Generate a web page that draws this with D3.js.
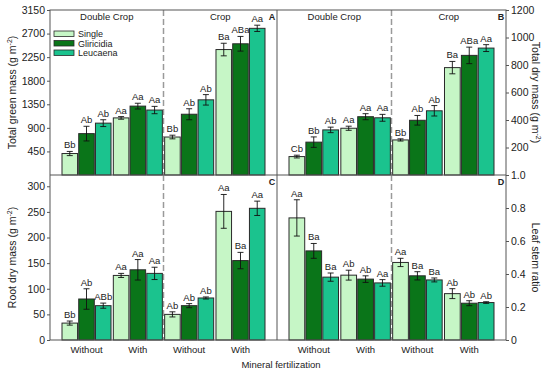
<!DOCTYPE html>
<html>
<head>
<meta charset="utf-8">
<script src="https://cdn.jsdelivr.net/npm/d3@7"></script>
<style>
  body { margin: 0; background: #fff; }
  svg { font-family: "Liberation Sans", Arial, sans-serif; }
</style>
</head>
<body>
<div class="chart"></div>
<script>
// groups: Double Crop Without, Double Crop With, Crop Without, Crop With
const groups = ["dcWithout", "dcWith", "cWithout", "cWith"]
const xLabels = ["Without", "With", "Without", "With"]
const halves = ["Double Crop", "Crop"]
const series = ["Single", "Gliricidia", "Leucaena"]
const colors = ["#c6f6c6", "#0a7519", "#1bc38e"]

// panel A - total green mass
const greenMass = [[410, 790, 990], [1090, 1315, 1240], [725, 1160, 1435], [2395, 2505, 2800]]
const greenErr = [[40, 140, 65], [25, 55, 70], [35, 105, 100], [120, 140, 60]]
const greenLet = [["Bb", "Ab", "Ab"], ["Aa", "Aa", "Aa"], ["Bb", "Ab", "Ab"], ["Ba", "ABa", "Aa"]]
const greenTicks = [450, 900, 1350, 1800, 2250, 2700, 3150]

// panel B - total dry mass
const dryMass = [[134, 239, 328], [340, 424, 416], [255, 398, 467], [781, 870, 923]]
const dryErr = [[10, 38, 20], [15, 22, 25], [8, 35, 38], [45, 60, 25]]
const dryLet = [["Cb", "Bb", "Ab"], ["Aa", "Aa", "Aa"], ["Bb", "Ab", "Ab"], ["Ba", "ABa", "Aa"]]
const dryTicks = [200, 400, 600, 800, 1000, 1200]

// panel C - root dry mass
const rootMass = [[33, 80, 67], [126, 137, 130], [50, 67, 82], [251, 155, 257]]
const rootErr = [[4, 20, 5], [4, 20, 12], [5, 4, 2], [33, 16, 14]]
const rootLet = [["Bb", "Ab", "ABb"], ["Aa", "Aa", "Aa"], ["Ab", "Ab", "Ab"], ["Aa", "Ba", "Aa"]]
const rootTicks = [0, 50, 100, 150, 200, 250, 300]

// panel D - leaf stem ratio
const leafStem = [[0.74, 0.54, 0.381], [0.393, 0.369, 0.346], [0.47, 0.389, 0.364], [0.281, 0.223, 0.227]]
const leafErr = [[0.11, 0.045, 0.025], [0.03, 0.02, 0.02], [0.025, 0.025, 0.012], [0.03, 0.015, 0.005]]
const leafLet = [["Aa", "Ba", "Ba"], ["Ab", "Ab", "Aa"], ["Aa", "Ba", "Ba"], ["Ab", "Ab", "Ab"]]
const leafTicks = [0, 0.2, 0.4, 0.6, 0.8, 1.0]

const svg = d3.select(".chart").append("svg")
  .attr("width", 550).attr("height", 376)

const L = 50, M = 277, R = 506, T = 10, H = 175, B = 340

const panels = [
  {id: "A", vals: greenMass, err: greenErr, lets: greenLet, ticks: greenTicks, max: 3150, x0: L, x1: M, y0: T, y1: H, side: "left",
   title: "Total green mass (g m", fmt: d => d},
  {id: "B", vals: dryMass, err: dryErr, lets: dryLet, ticks: dryTicks, max: 1200, x0: M, x1: R, y0: T, y1: H, side: "right",
   title: "Total dry mass (g m", fmt: d => d},
  {id: "C", vals: rootMass, err: rootErr, lets: rootLet, ticks: rootTicks, max: 322, x0: L, x1: M, y0: H, y1: B, side: "left",
   title: "Root dry mass (g m", fmt: d => d},
  {id: "D", vals: leafStem, err: leafErr, lets: leafLet, ticks: leafTicks, max: 1.0, x0: M, x1: R, y0: H, y1: B, side: "right",
   title: "Leaf stem ratio", fmt: d => d === 0 ? "0" : d.toFixed(1)}
]

panels.forEach(p => {
  const x = d3.scaleBand().domain(groups).range([p.x0 + 12, p.x1 - 12]).paddingInner(0.045)
  const xs = d3.scaleBand().domain(series).range([0, x.bandwidth()]).paddingInner(0.07)
  const y = d3.scaleLinear().domain([0, p.max]).range([p.y1, p.y0])
  const g = svg.append("g")

  // dashed divider
  const mid = (p.x0 + p.x1) / 2
  g.append("line").attr("x1", mid).attr("x2", mid).attr("y1", p.y0).attr("y2", p.y1)
    .attr("stroke", "#9a9a9a").attr("stroke-width", 1.5).attr("stroke-dasharray", "6,3")

  const grp = g.selectAll(".grp").data(groups).enter().append("g")
    .attr("transform", d => `translate(${x(d)},0)`)

  const items = grp.selectAll("g").data((d, i) => series.map((s, j) => ({s, j, v: p.vals[i][j], e: p.err[i][j], t: p.lets[i][j]})))
    .enter().append("g")

  items.append("rect")
    .attr("x", d => xs(d.s)).attr("width", xs.bandwidth())
    .attr("y", d => y(d.v)).attr("height", d => y(0) - y(d.v))
    .attr("fill", d => colors[d.j]).attr("stroke", "#2a2a2a").attr("stroke-width", 1)

  const cx = d => xs(d.s) + xs.bandwidth() / 2
  items.append("line").attr("x1", cx).attr("x2", cx)
    .attr("y1", d => y(d.v - d.e)).attr("y2", d => y(d.v + d.e))
    .attr("stroke", "#111").attr("stroke-width", 0.9)
  items.append("line").attr("x1", d => cx(d) - 3).attr("x2", d => cx(d) + 3)
    .attr("y1", d => y(d.v + d.e)).attr("y2", d => y(d.v + d.e))
    .attr("stroke", "#111").attr("stroke-width", 0.9)
  items.append("line").attr("x1", d => cx(d) - 3).attr("x2", d => cx(d) + 3)
    .attr("y1", d => y(d.v - d.e)).attr("y2", d => y(d.v - d.e))
    .attr("stroke", "#111").attr("stroke-width", 0.9)
  items.append("text").text(d => d.t)
    .attr("x", cx).attr("y", d => y(d.v + d.e) - 3)
    .attr("text-anchor", "middle").attr("font-size", 9.5).attr("fill", "#222")

  // axis
  const axis = p.side === "left" ? d3.axisLeft(y) : d3.axisRight(y)
  axis.tickValues(p.ticks).tickFormat(p.fmt).tickSize(3).tickPadding(2)
  const ax = svg.append("g")
    .attr("transform", `translate(${p.side === "left" ? p.x0 : p.x1},0)`)
    .call(axis)
  ax.select(".domain").remove()
  ax.selectAll("line").attr("stroke", "#555")
  ax.selectAll("text").attr("font-size", 10.5).attr("fill", "#222")
    .attr("font-family", "Liberation Sans, Arial, sans-serif")

  // panel letter
  svg.append("text").text(p.id)
    .attr("x", p.x1 - 5).attr("y", p.y0 + 10)
    .attr("text-anchor", "middle").attr("font-size", 9).attr("font-weight", "bold").attr("fill", "#222")

  // axis title
  const tx = p.side === "left" ? 16 : 532
  const ty = (p.y0 + p.y1) / 2
  const title = svg.append("text")
    .attr("transform", `translate(${tx},${ty}) rotate(${p.side === "left" ? -90 : 90})`)
    .attr("text-anchor", "middle").attr("font-size", 10.5).attr("fill", "#222")
  title.append("tspan").text(p.title)
  if (p.id !== "D") {
    title.append("tspan").text("-2").attr("font-size", 7).attr("dy", -4)
    title.append("tspan").text(")").attr("dy", 4)
  }

  // half titles on the top row
  if (p.y0 === T) {
    svg.selectAll(null).data(halves).enter().append("text")
      .text(d => d)
      .attr("x", (d, i) => i === 0 ? (p.x0 + mid) / 2 : (mid + p.x1) / 2)
      .attr("y", p.y0 + 10)
      .attr("text-anchor", "middle").attr("font-size", 9.5).attr("fill", "#222")
  } else {
    svg.selectAll(null).data(groups).enter().append("text")
      .text((d, i) => xLabels[i])
      .attr("x", d => x(d) + x.bandwidth() / 2)
      .attr("y", B + 13)
      .attr("text-anchor", "middle").attr("font-size", 9.5).attr("fill", "#222")
  }
})

// frame lines
const frame = svg.append("g").attr("stroke", "#555").attr("stroke-width", 1).attr("fill", "none")
frame.append("rect").attr("x", L).attr("y", T).attr("width", R - L).attr("height", B - T)
frame.append("line").attr("x1", L).attr("x2", R).attr("y1", H).attr("y2", H)
frame.append("line").attr("x1", M).attr("x2", M).attr("y1", T).attr("y2", B)

// x title
svg.append("text").text("Mineral fertilization")
  .attr("x", 281).attr("y", 368)
  .attr("text-anchor", "middle").attr("font-size", 9.5).attr("fill", "#222")

// legend
const leg = svg.append("g").attr("transform", "translate(54,31)")
const li = leg.selectAll("g").data(series).enter().append("g")
  .attr("transform", (d, i) => `translate(0,${i * 9.5})`)
li.append("rect").attr("width", 20).attr("height", 5.5)
  .attr("fill", (d, i) => colors[i]).attr("stroke", "#2a2a2a").attr("stroke-width", 0.8)
li.append("text").text(d => d).attr("x", 24).attr("y", 6)
  .attr("font-size", 9).attr("fill", "#222")
</script>
</body>
</html>
